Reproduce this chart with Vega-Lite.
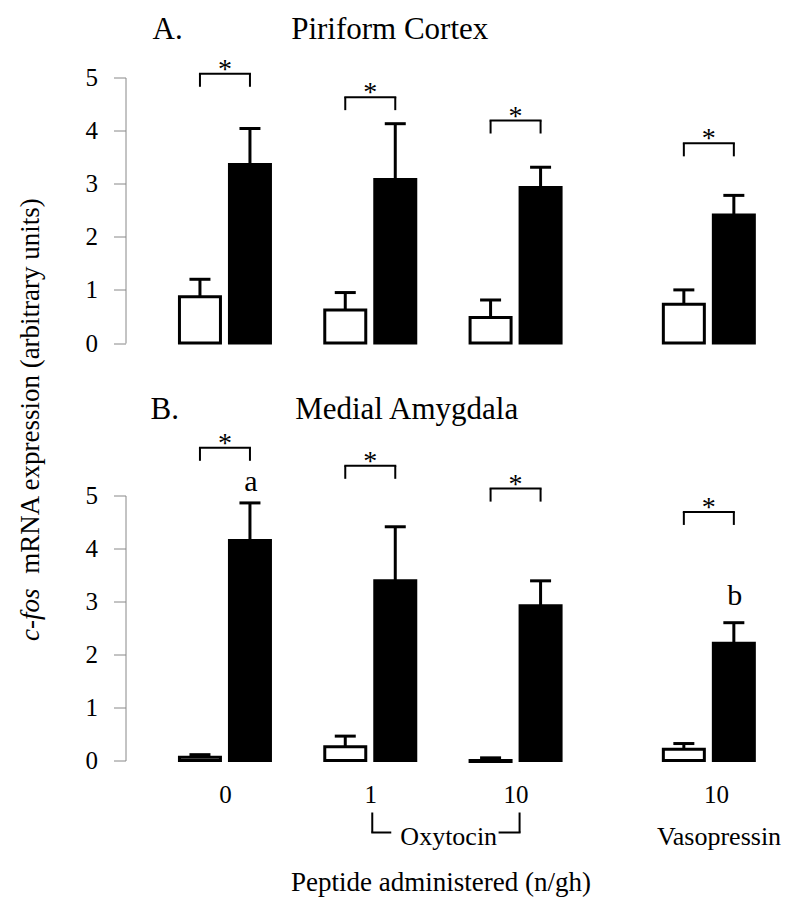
{
  "$schema": "https://vega.github.io/schema/vega-lite/v6.json",
  "padding": {"left": 16.5, "top": 13.5, "right": 5, "bottom": 5},
  "spacing": 152,
  "bounds": "flush",
  "config": {
    "view": {"stroke": null},
    "font": "Liberation Serif",
    "axis": {"grid": false, "domainColor": "#888888", "tickColor": "#888888", "labelFont": "Liberation Serif", "labelColor": "black", "titleFont": "Liberation Serif", "titleFontWeight": "normal", "titleColor": "black"}
  },
  "datasets": {
    "bars": [
      {"region": "Piriform Cortex", "peptide": "None", "dose": "0", "slot": 1, "condition": "Control", "mean": 0.87, "upper": 1.20},
      {"region": "Piriform Cortex", "peptide": "None", "dose": "0", "slot": 1, "condition": "Treated", "mean": 3.36, "upper": 4.04},
      {"region": "Piriform Cortex", "peptide": "Oxytocin", "dose": "1", "slot": 2, "condition": "Control", "mean": 0.62, "upper": 0.95},
      {"region": "Piriform Cortex", "peptide": "Oxytocin", "dose": "1", "slot": 2, "condition": "Treated", "mean": 3.08, "upper": 4.13},
      {"region": "Piriform Cortex", "peptide": "Oxytocin", "dose": "10", "slot": 3, "condition": "Control", "mean": 0.48, "upper": 0.81},
      {"region": "Piriform Cortex", "peptide": "Oxytocin", "dose": "10", "slot": 3, "condition": "Treated", "mean": 2.93, "upper": 3.31},
      {"region": "Piriform Cortex", "peptide": "Vasopressin", "dose": "10", "slot": 4.33, "condition": "Control", "mean": 0.73, "upper": 1.00},
      {"region": "Piriform Cortex", "peptide": "Vasopressin", "dose": "10", "slot": 4.33, "condition": "Treated", "mean": 2.41, "upper": 2.78},
      {"region": "Medial Amygdala", "peptide": "None", "dose": "0", "slot": 1, "condition": "Control", "mean": 0.06, "upper": 0.11},
      {"region": "Medial Amygdala", "peptide": "None", "dose": "0", "slot": 1, "condition": "Treated", "mean": 4.15, "upper": 4.86},
      {"region": "Medial Amygdala", "peptide": "Oxytocin", "dose": "1", "slot": 2, "condition": "Control", "mean": 0.26, "upper": 0.46},
      {"region": "Medial Amygdala", "peptide": "Oxytocin", "dose": "1", "slot": 2, "condition": "Treated", "mean": 3.39, "upper": 4.41},
      {"region": "Medial Amygdala", "peptide": "Oxytocin", "dose": "10", "slot": 3, "condition": "Control", "mean": -0.02, "upper": 0.05},
      {"region": "Medial Amygdala", "peptide": "Oxytocin", "dose": "10", "slot": 3, "condition": "Treated", "mean": 2.92, "upper": 3.39},
      {"region": "Medial Amygdala", "peptide": "Vasopressin", "dose": "10", "slot": 4.33, "condition": "Control", "mean": 0.21, "upper": 0.32},
      {"region": "Medial Amygdala", "peptide": "Vasopressin", "dose": "10", "slot": 4.33, "condition": "Treated", "mean": 2.21, "upper": 2.60}
    ],
    "brackets": [
      {"region": "Piriform Cortex", "slot": 1, "level": 5.07, "sig": "*"},
      {"region": "Piriform Cortex", "slot": 2, "level": 4.63, "sig": "*"},
      {"region": "Piriform Cortex", "slot": 3, "level": 4.19, "sig": "*"},
      {"region": "Piriform Cortex", "slot": 4.33, "level": 3.76, "sig": "*"},
      {"region": "Medial Amygdala", "slot": 1, "level": 5.90, "sig": "*"},
      {"region": "Medial Amygdala", "slot": 2, "level": 5.56, "sig": "*"},
      {"region": "Medial Amygdala", "slot": 3, "level": 5.13, "sig": "*"},
      {"region": "Medial Amygdala", "slot": 4.33, "level": 4.69, "sig": "*"}
    ],
    "letters": [
      {"region": "Medial Amygdala", "slot": 1, "level": 5.08, "letter": "a"},
      {"region": "Medial Amygdala", "slot": 4.33, "level": 2.93, "letter": "b"}
    ],
    "peptides": [
      {"peptide": "Oxytocin", "first": 2, "last": 3, "labelAt": 2.54},
      {"peptide": "Vasopressin", "first": 4.33, "last": 4.33, "labelAt": 4.40}
    ]
  },
  "vconcat": [
    {
      "width": 661,
      "height": 265.5,
      "title": {"text": "A.\u00a0\u00a0\u00a0\u00a0\u00a0\u00a0\u00a0\u00a0\u00a0\u00a0\u00a0\u00a0\u00a0\u00a0Piriform Cortex", "anchor": "start", "frame": "group", "dx": 27, "fontSize": 31, "font": "Liberation Serif", "fontWeight": "normal", "color": "black", "offset": -14, "baseline": "alphabetic"},
      "layer": [
        {
          "data": {"name": "bars"},
          "transform": [{"filter": "datum.region === 'Piriform Cortex' && datum.condition === 'Control'"}],
          "mark": {"type": "bar", "orient": "vertical", "width": 41, "xOffset": -25, "fill": "white", "stroke": "black", "strokeWidth": 3},
          "encoding": {
            "x": {"field": "slot", "type": "quantitative", "scale": {"domain": [0.35, 4.83], "nice": false, "zero": false}, "axis": null},
            "y": {"field": "mean", "type": "quantitative", "scale": {"domain": [0, 5], "nice": false},
              "axis": {"values": [0, 1, 2, 3, 4, 5], "tickSize": 12, "labelFontSize": 25, "labelPadding": 16,
                "title": "mRNA expression (arbitrary units)", "titleFontSize": 27, "titleAngle": 270, "titleX": -95, "titleY": 308, "titleAlign": "center", "titleBaseline": "middle"}},
            "y2": {"datum": 0}
          }
        },
        {
          "data": {"name": "bars"},
          "transform": [{"filter": "datum.region === 'Piriform Cortex' && datum.condition === 'Treated'"}],
          "mark": {"type": "bar", "orient": "vertical", "width": 41, "xOffset": 25, "fill": "black", "stroke": "black", "strokeWidth": 3},
          "encoding": {
            "x": {"field": "slot", "type": "quantitative", "axis": null},
            "y": {"field": "mean", "type": "quantitative"},
            "y2": {"datum": 0}
          }
        },
        {
          "data": {"name": "bars"},
          "transform": [{"filter": "datum.region === 'Piriform Cortex' && datum.condition === 'Control'"}],
          "mark": {"type": "rule", "xOffset": -25, "color": "black", "strokeWidth": 3},
          "encoding": {
            "x": {"field": "slot", "type": "quantitative", "axis": null},
            "y": {"field": "mean", "type": "quantitative"},
            "y2": {"field": "upper"}
          }
        },
        {
          "data": {"name": "bars"},
          "transform": [{"filter": "datum.region === 'Piriform Cortex' && datum.condition === 'Treated'"}],
          "mark": {"type": "rule", "xOffset": 25, "color": "black", "strokeWidth": 3},
          "encoding": {
            "x": {"field": "slot", "type": "quantitative", "axis": null},
            "y": {"field": "mean", "type": "quantitative"},
            "y2": {"field": "upper"}
          }
        },
        {
          "data": {"name": "bars"},
          "transform": [{"filter": "datum.region === 'Piriform Cortex' && datum.condition === 'Control'"}],
          "mark": {"type": "rule", "xOffset": -35.5, "x2Offset": -14.5, "color": "black", "strokeWidth": 3},
          "encoding": {
            "x": {"field": "slot", "type": "quantitative", "axis": null},
            "x2": {"field": "slot"},
            "y": {"field": "upper", "type": "quantitative"}
          }
        },
        {
          "data": {"name": "bars"},
          "transform": [{"filter": "datum.region === 'Piriform Cortex' && datum.condition === 'Treated'"}],
          "mark": {"type": "rule", "xOffset": 14.5, "x2Offset": 35.5, "color": "black", "strokeWidth": 3},
          "encoding": {
            "x": {"field": "slot", "type": "quantitative", "axis": null},
            "x2": {"field": "slot"},
            "y": {"field": "upper", "type": "quantitative"}
          }
        },
        {
          "data": {"name": "brackets"},
          "transform": [{"filter": "datum.region === 'Piriform Cortex'"}],
          "mark": {"type": "rule", "xOffset": -25, "x2Offset": 25, "color": "black", "strokeWidth": 2, "strokeCap": "square"},
          "encoding": {
            "x": {"field": "slot", "type": "quantitative", "axis": null},
            "x2": {"field": "slot"},
            "y": {"field": "level", "type": "quantitative"}
          }
        },
        {
          "data": {"name": "brackets"},
          "transform": [{"filter": "datum.region === 'Piriform Cortex'"}],
          "mark": {"type": "rule", "xOffset": -25, "y2Offset": 13, "color": "black", "strokeWidth": 2},
          "encoding": {
            "x": {"field": "slot", "type": "quantitative", "axis": null},
            "y": {"field": "level", "type": "quantitative"},
            "y2": {"field": "level"}
          }
        },
        {
          "data": {"name": "brackets"},
          "transform": [{"filter": "datum.region === 'Piriform Cortex'"}],
          "mark": {"type": "rule", "xOffset": 25, "y2Offset": 13, "color": "black", "strokeWidth": 2},
          "encoding": {
            "x": {"field": "slot", "type": "quantitative", "axis": null},
            "y": {"field": "level", "type": "quantitative"},
            "y2": {"field": "level"}
          }
        },
        {
          "data": {"name": "brackets"},
          "transform": [{"filter": "datum.region === 'Piriform Cortex'"}],
          "mark": {"type": "text", "font": "Liberation Serif", "fontSize": 28, "baseline": "alphabetic", "align": "center", "color": "black", "yOffset": 4},
          "encoding": {
            "x": {"field": "slot", "type": "quantitative", "axis": null},
            "y": {"field": "level", "type": "quantitative"},
            "text": {"field": "sig"}
          }
        }
      ]
    },
    {
      "width": 661,
      "height": 265,
      "title": {"text": "B.\u00a0\u00a0\u00a0\u00a0\u00a0\u00a0\u00a0\u00a0\u00a0\u00a0\u00a0\u00a0\u00a0\u00a0\u00a0Medial Amygdala", "anchor": "start", "frame": "group", "dx": 25, "fontSize": 31, "font": "Liberation Serif", "fontWeight": "normal", "color": "black", "offset": -20, "baseline": "alphabetic"},
      "layer": [
        {
          "data": {"name": "bars"},
          "transform": [{"filter": "datum.region === 'Medial Amygdala' && datum.condition === 'Control'"}],
          "mark": {"type": "bar", "orient": "vertical", "width": 41, "xOffset": -25, "fill": "white", "stroke": "black", "strokeWidth": 3},
          "encoding": {
            "x": {"field": "slot", "type": "quantitative", "scale": {"domain": [0.35, 4.83], "nice": false, "zero": false},
              "axis": {"values": [1, 2, 3, 4.38], "labelExpr": "datum.value < 1.5 ? '0' : datum.value < 2.5 ? '1' : '10'", "domain": false, "ticks": false, "tickSize": 0, "labelPadding": 22, "labelFontSize": 25,
                "title": "Peptide administered (n/gh)", "titleFontSize": 27, "titleX": 315, "titleY": 130, "titleAlign": "center", "titleBaseline": "alphabetic"}},
            "y": {"field": "mean", "type": "quantitative", "scale": {"domain": [0, 5], "nice": false},
              "axis": {"values": [0, 1, 2, 3, 4, 5], "tickSize": 12, "labelFontSize": 25, "labelPadding": 16,
                "title": "c-fos", "titleFontSize": 27, "titleFontStyle": "italic", "titleAngle": 270, "titleX": -95, "titleY": 118.75, "titleAlign": "center", "titleBaseline": "middle"}},
            "y2": {"datum": 0}
          }
        },
        {
          "data": {"name": "bars"},
          "transform": [{"filter": "datum.region === 'Medial Amygdala' && datum.condition === 'Treated'"}],
          "mark": {"type": "bar", "orient": "vertical", "width": 41, "xOffset": 25, "fill": "black", "stroke": "black", "strokeWidth": 3},
          "encoding": {
            "x": {"field": "slot", "type": "quantitative"},
            "y": {"field": "mean", "type": "quantitative"},
            "y2": {"datum": 0}
          }
        },
        {
          "data": {"name": "bars"},
          "transform": [{"filter": "datum.region === 'Medial Amygdala' && datum.condition === 'Control'"}],
          "mark": {"type": "rule", "xOffset": -25, "color": "black", "strokeWidth": 3},
          "encoding": {
            "x": {"field": "slot", "type": "quantitative"},
            "y": {"field": "mean", "type": "quantitative"},
            "y2": {"field": "upper"}
          }
        },
        {
          "data": {"name": "bars"},
          "transform": [{"filter": "datum.region === 'Medial Amygdala' && datum.condition === 'Treated'"}],
          "mark": {"type": "rule", "xOffset": 25, "color": "black", "strokeWidth": 3},
          "encoding": {
            "x": {"field": "slot", "type": "quantitative"},
            "y": {"field": "mean", "type": "quantitative"},
            "y2": {"field": "upper"}
          }
        },
        {
          "data": {"name": "bars"},
          "transform": [{"filter": "datum.region === 'Medial Amygdala' && datum.condition === 'Control'"}],
          "mark": {"type": "rule", "xOffset": -35.5, "x2Offset": -14.5, "color": "black", "strokeWidth": 3},
          "encoding": {
            "x": {"field": "slot", "type": "quantitative"},
            "x2": {"field": "slot"},
            "y": {"field": "upper", "type": "quantitative"}
          }
        },
        {
          "data": {"name": "bars"},
          "transform": [{"filter": "datum.region === 'Medial Amygdala' && datum.condition === 'Treated'"}],
          "mark": {"type": "rule", "xOffset": 14.5, "x2Offset": 35.5, "color": "black", "strokeWidth": 3},
          "encoding": {
            "x": {"field": "slot", "type": "quantitative"},
            "x2": {"field": "slot"},
            "y": {"field": "upper", "type": "quantitative"}
          }
        },
        {
          "data": {"name": "brackets"},
          "transform": [{"filter": "datum.region === 'Medial Amygdala'"}],
          "mark": {"type": "rule", "xOffset": -25, "x2Offset": 25, "color": "black", "strokeWidth": 2, "strokeCap": "square"},
          "encoding": {
            "x": {"field": "slot", "type": "quantitative"},
            "x2": {"field": "slot"},
            "y": {"field": "level", "type": "quantitative"}
          }
        },
        {
          "data": {"name": "brackets"},
          "transform": [{"filter": "datum.region === 'Medial Amygdala'"}],
          "mark": {"type": "rule", "xOffset": -25, "y2Offset": 13, "color": "black", "strokeWidth": 2},
          "encoding": {
            "x": {"field": "slot", "type": "quantitative"},
            "y": {"field": "level", "type": "quantitative"},
            "y2": {"field": "level"}
          }
        },
        {
          "data": {"name": "brackets"},
          "transform": [{"filter": "datum.region === 'Medial Amygdala'"}],
          "mark": {"type": "rule", "xOffset": 25, "y2Offset": 13, "color": "black", "strokeWidth": 2},
          "encoding": {
            "x": {"field": "slot", "type": "quantitative"},
            "y": {"field": "level", "type": "quantitative"},
            "y2": {"field": "level"}
          }
        },
        {
          "data": {"name": "brackets"},
          "transform": [{"filter": "datum.region === 'Medial Amygdala'"}],
          "mark": {"type": "text", "font": "Liberation Serif", "fontSize": 28, "baseline": "alphabetic", "align": "center", "color": "black", "yOffset": 4},
          "encoding": {
            "x": {"field": "slot", "type": "quantitative"},
            "y": {"field": "level", "type": "quantitative"},
            "text": {"field": "sig"}
          }
        },
        {
          "data": {"name": "letters"},
          "mark": {"type": "text", "font": "Liberation Serif", "fontSize": 30, "baseline": "alphabetic", "align": "center", "color": "black", "xOffset": 26},
          "encoding": {
            "x": {"field": "slot", "type": "quantitative"},
            "y": {"field": "level", "type": "quantitative"},
            "text": {"field": "letter"}
          }
        },
        {
          "data": {"name": "peptides"},
          "mark": {"type": "text", "font": "Liberation Serif", "fontSize": 26, "baseline": "alphabetic", "align": "center", "color": "black", "yOffset": 84},
          "encoding": {
            "x": {"field": "labelAt", "type": "quantitative"},
            "y": {"datum": 0, "type": "quantitative"},
            "text": {"field": "peptide"}
          }
        },
        {
          "data": {"name": "peptides"},
          "transform": [{"filter": "datum.peptide === 'Oxytocin'"}],
          "mark": {"type": "rule", "xOffset": 2, "yOffset": 52, "y2Offset": 72, "color": "black", "strokeWidth": 2},
          "encoding": {
            "x": {"field": "first", "type": "quantitative"},
            "y": {"datum": 0, "type": "quantitative"},
            "y2": {"datum": 0}
          }
        },
        {
          "data": {"name": "peptides"},
          "transform": [{"filter": "datum.peptide === 'Oxytocin'"}],
          "mark": {"type": "rule", "xOffset": 2, "x2Offset": 20, "yOffset": 72, "color": "black", "strokeWidth": 2, "strokeCap": "square"},
          "encoding": {
            "x": {"field": "first", "type": "quantitative"},
            "x2": {"field": "first"},
            "y": {"datum": 0, "type": "quantitative"}
          }
        },
        {
          "data": {"name": "peptides"},
          "transform": [{"filter": "datum.peptide === 'Oxytocin'"}],
          "mark": {"type": "rule", "xOffset": -16, "x2Offset": 4, "yOffset": 72, "color": "black", "strokeWidth": 2, "strokeCap": "square"},
          "encoding": {
            "x": {"field": "last", "type": "quantitative"},
            "x2": {"field": "last"},
            "y": {"datum": 0, "type": "quantitative"}
          }
        },
        {
          "data": {"name": "peptides"},
          "transform": [{"filter": "datum.peptide === 'Oxytocin'"}],
          "mark": {"type": "rule", "xOffset": 4, "yOffset": 52, "y2Offset": 72, "color": "black", "strokeWidth": 2},
          "encoding": {
            "x": {"field": "last", "type": "quantitative"},
            "y": {"datum": 0, "type": "quantitative"},
            "y2": {"datum": 0}
          }
        }
      ]
    }
  ]
}
